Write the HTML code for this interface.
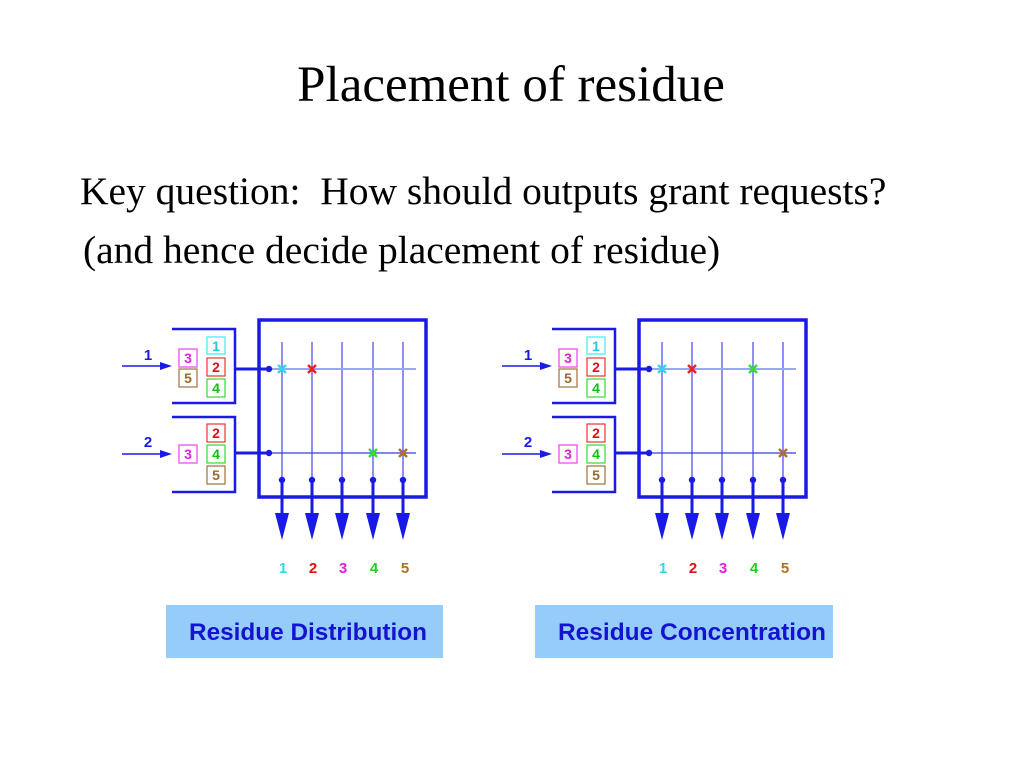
<!DOCTYPE html>
<html><head><style>
body{margin:0;width:1024px;height:768px;background:#fff;overflow:hidden;position:relative}
</style></head><body>
<svg width="1024" height="768" style="position:absolute;left:0;top:0" font-family="Liberation Sans, sans-serif" font-weight="bold">
<text x="511" y="101" font-family="Liberation Serif, serif" font-weight="normal" font-size="51" text-anchor="middle" fill="#000">Placement of residue</text>
<text x="80" y="204" font-family="Liberation Serif, serif" font-weight="normal" font-size="39.5" fill="#000" xml:space="preserve">Key question:  How should outputs grant requests?</text>
<text x="83" y="263" font-family="Liberation Serif, serif" font-weight="normal" font-size="39.5" fill="#000">(and hence decide placement of residue)</text>
<defs>
<g id="base">
  <rect x="259" y="320" width="167" height="177" fill="none" stroke="#1a1ae6" stroke-width="3.5"/>
  <g stroke="#1a1ae6" stroke-width="1.3" opacity="0.75">
    <line x1="282" y1="342" x2="282" y2="515"/><line x1="312" y1="342" x2="312" y2="515"/>
    <line x1="342" y1="342" x2="342" y2="515"/><line x1="373" y1="342" x2="373" y2="515"/>
    <line x1="403" y1="342" x2="403" y2="515"/>
  </g>
  <line x1="269" y1="369" x2="416" y2="369" stroke="#9aa8f0" stroke-width="2"/>
  <line x1="269" y1="453" x2="416" y2="453" stroke="#3b3be8" stroke-width="1.3"/>
  <g stroke="#1a1ae6" stroke-width="3">
    <line x1="235" y1="369" x2="269" y2="369"/><line x1="235" y1="453" x2="269" y2="453"/>
    <line x1="282" y1="480" x2="282" y2="516"/><line x1="312" y1="480" x2="312" y2="516"/>
    <line x1="342" y1="480" x2="342" y2="516"/><line x1="373" y1="480" x2="373" y2="516"/>
    <line x1="403" y1="480" x2="403" y2="516"/>
  </g>
  <g fill="#1a1ae6">
    <circle cx="269" cy="369" r="3.2"/><circle cx="269" cy="453" r="3.2"/>
    <circle cx="282" cy="480" r="3.2"/><circle cx="312" cy="480" r="3.2"/><circle cx="342" cy="480" r="3.2"/><circle cx="373" cy="480" r="3.2"/><circle cx="403" cy="480" r="3.2"/>
    <polygon points="275,513 289,513 282,540"/><polygon points="305,513 319,513 312,540"/><polygon points="335,513 349,513 342,540"/><polygon points="366,513 380,513 373,540"/><polygon points="396,513 410,513 403,540"/>
  </g>
  <polyline points="172,329 235,329 235,403 172,403" fill="none" stroke="#1a1ae6" stroke-width="2.5"/>
  <polyline points="172,417 235,417 235,492 172,492" fill="none" stroke="#1a1ae6" stroke-width="2.5"/>
  <g stroke="#1a1ae6" stroke-width="1.5" fill="#1a1ae6">
    <line x1="122" y1="366" x2="162" y2="366"/><polygon points="160,362 172,366 160,370" stroke="none"/>
    <line x1="122" y1="454" x2="162" y2="454"/><polygon points="160,450 172,454 160,458" stroke="none"/>
  </g>
  <text x="148" y="360" font-size="15" fill="#1a1ae6" text-anchor="middle">1</text>
  <text x="148" y="447" font-size="15" fill="#1a1ae6" text-anchor="middle">2</text>
  <g fill="none" stroke-width="1.2" font-size="14">
    <rect x="179" y="349" width="18" height="18" stroke="#f03cf0"/><text x="188" y="363" fill="#e020e0" stroke="none" text-anchor="middle">3</text>
    <rect x="179" y="369" width="18" height="18" stroke="#a0703a"/><text x="188" y="383" fill="#9a6a30" stroke="none" text-anchor="middle">5</text>
    <rect x="207" y="337" width="18" height="17" stroke="#40e8f0"/><text x="216" y="351" fill="#20c8e0" stroke="none" text-anchor="middle">1</text>
    <rect x="207" y="358" width="18" height="18" stroke="#f03030"/><text x="216" y="372" fill="#e01010" stroke="none" text-anchor="middle">2</text>
    <rect x="207" y="379" width="18" height="18" stroke="#30e030"/><text x="216" y="393" fill="#10c010" stroke="none" text-anchor="middle">4</text>
    <rect x="179" y="445" width="18" height="18" stroke="#f03cf0"/><text x="188" y="459" fill="#e020e0" stroke="none" text-anchor="middle">3</text>
    <rect x="207" y="424" width="18" height="18" stroke="#f03030"/><text x="216" y="438" fill="#e01010" stroke="none" text-anchor="middle">2</text>
    <rect x="207" y="445" width="18" height="18" stroke="#30e030"/><text x="216" y="459" fill="#10c010" stroke="none" text-anchor="middle">4</text>
    <rect x="207" y="466" width="18" height="18" stroke="#a0703a"/><text x="216" y="480" fill="#9a6a30" stroke="none" text-anchor="middle">5</text>
  </g>
  <g font-size="15" text-anchor="middle">
    <text x="283" y="573" fill="#30d8e8">1</text><text x="313" y="573" fill="#e01010">2</text>
    <text x="343" y="573" fill="#e020e0">3</text><text x="374" y="573" fill="#20d020">4</text>
    <text x="405" y="573" fill="#b07020">5</text>
  </g>
</g>
</defs>
<use href="#base"/>
<use href="#base" transform="translate(380,0)"/>
<g stroke-width="2.5">
  <g stroke="#30d8f0"><line x1="278" y1="365" x2="286" y2="373"/><line x1="286" y1="365" x2="278" y2="373"/></g>
  <g stroke="#f02020"><line x1="308" y1="365" x2="316" y2="373"/><line x1="316" y1="365" x2="308" y2="373"/></g>
  <g stroke="#30e030"><line x1="369" y1="449" x2="377" y2="457"/><line x1="377" y1="449" x2="369" y2="457"/></g>
  <g stroke="#b07030"><line x1="399" y1="449" x2="407" y2="457"/><line x1="407" y1="449" x2="399" y2="457"/></g>
  <g stroke="#30d8f0"><line x1="658" y1="365" x2="666" y2="373"/><line x1="666" y1="365" x2="658" y2="373"/></g>
  <g stroke="#f02020"><line x1="688" y1="365" x2="696" y2="373"/><line x1="696" y1="365" x2="688" y2="373"/></g>
  <g stroke="#30e030"><line x1="749" y1="365" x2="757" y2="373"/><line x1="757" y1="365" x2="749" y2="373"/></g>
  <g stroke="#b07030"><line x1="779" y1="449" x2="787" y2="457"/><line x1="787" y1="449" x2="779" y2="457"/></g>
</g>
<rect x="166" y="605" width="277" height="53" fill="#95ccfa"/>
<rect x="535" y="605" width="298" height="53" fill="#95ccfa"/>
<text x="189" y="640" font-size="24" fill="#1414d0" textLength="238" lengthAdjust="spacingAndGlyphs">Residue Distribution</text>
<text x="558" y="640" font-size="24" fill="#1414d0" textLength="268" lengthAdjust="spacingAndGlyphs">Residue Concentration</text>
</svg>
</body></html>
